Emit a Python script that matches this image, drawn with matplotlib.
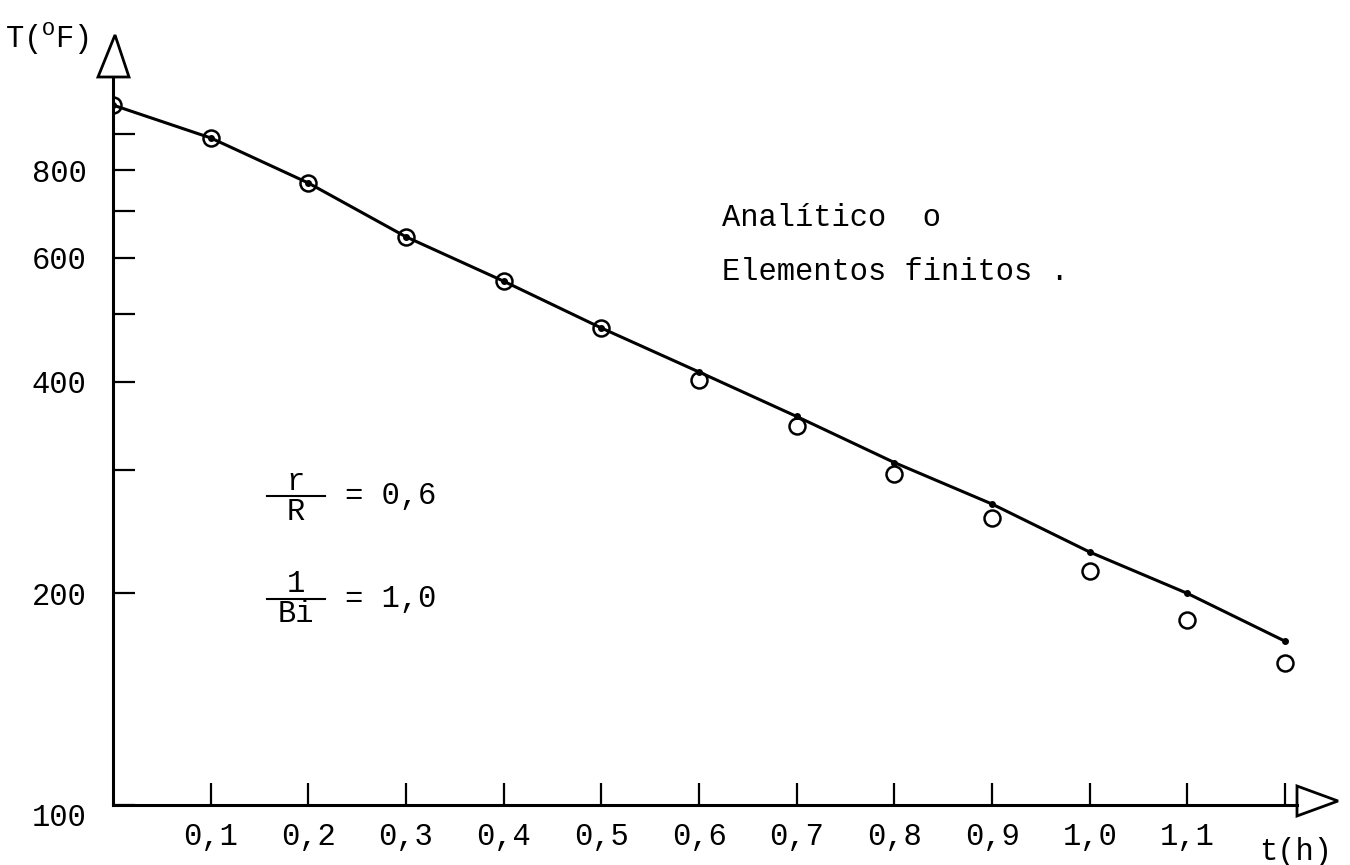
import numpy as np
import matplotlib
matplotlib.use('Agg')
import matplotlib.pyplot as plt
from matplotlib.patches import Polygon
from matplotlib.lines import Line2D
from matplotlib.transforms import ScaledTranslation

# tempo (h) e temperaturas (oF)
t = [0.0, 0.1, 0.2, 0.3, 0.4, 0.5, 0.6, 0.7, 0.8, 0.9, 1.0, 1.1, 1.2]
T_analitico = [990, 889, 767, 643, 556, 477, 402, 346, 296, 256, 215, 183, 159]
T_elementos = [990, 889, 767, 643, 556, 477, 413, 357, 307, 268, 229, 200, 171]

x_ticks = [0.1, 0.2, 0.3, 0.4, 0.5, 0.6, 0.7, 0.8, 0.9, 1.0, 1.1, 1.2]
x_labels = ['0,1', '0,2', '0,3', '0,4', '0,5', '0,6', '0,7', '0,8', '0,9', '1,0', '1,1', '']
y_ticks = [100, 200, 400, 600, 800]
y_labels = ['100', '200', '400', '600', '800']
y_minor = [300, 500, 700, 900]

plt.rcParams['font.family'] = ['Liberation Mono', 'DejaVu Sans Mono']
plt.rcParams['mathtext.fontset'] = 'custom'
plt.rcParams['mathtext.rm'] = 'Liberation Mono'
FS = 22

W, H = 1350, 865
fig = plt.figure(figsize=(W / 100, H / 100), dpi=100)


def px(x, y):
    # pixel -> fracao da figura
    return (x / W, 1 - y / H)


left, right, top, bottom = 113, 1297, 77, 805
ax = fig.add_axes([left / W, 1 - bottom / H, (right - left) / W, (bottom - top) / H])

ax.set_yscale('log')
ax.set_xlim(0, (right - left) / ((1285 - left) / 1.2))
ax.set_ylim(100, 100 * 10 ** ((bottom - top) / 703))

ax.plot(t, T_elementos, '-', color='black', lw=2.2, zorder=2)
ax.plot(t, T_elementos, 'o', color='black', ms=4, zorder=3)
ax.plot(t, T_analitico, 'o', mfc='none', mec='black', ms=11.5, mew=1.8, zorder=3)

for s in ['top', 'right']:
    ax.spines[s].set_visible(False)
for s in ['left', 'bottom']:
    ax.spines[s].set_linewidth(2.2)

ax.set_xticks(x_ticks)
ax.set_xticklabels(x_labels, fontsize=FS)
ax.set_yticks(y_ticks)
ax.set_yticklabels(y_labels, fontsize=FS)
ax.set_yticks(y_minor, minor=True)
ax.yaxis.set_minor_formatter(matplotlib.ticker.NullFormatter())
ax.tick_params(axis='both', which='both', direction='in', length=16, width=1.6)
ax.tick_params(axis='y', which='both', pad=19)
ax.tick_params(axis='x', pad=12)

# o rotulo 100 fica um pouco abaixo do eixo
lab100 = ax.get_yticklabels()[0]
lab100.set_transform(lab100.get_transform() + ScaledTranslation(0, -10 / 100, fig.dpi_scale_trans))

# setas abertas nos eixos
fig.add_artist(Polygon([px(98, 77), px(129, 77), px(115, 35)], closed=True,
                       fill=False, lw=2, ec='black', transform=fig.transFigure))
fig.add_artist(Polygon([px(1297, 786), px(1297, 816), px(1338, 801)], closed=True,
                       fill=False, lw=2, ec='black', transform=fig.transFigure))

fig.text(*px(5, 38), r'T($^{\mathrm{O}}$F)', fontsize=FS, ha='left', va='center')
fig.text(*px(1296, 852), 't(h)', fontsize=FS, ha='center', va='center')

fig.text(*px(722, 218), 'Analítico  o', fontsize=FS, ha='left', va='center')
fig.text(*px(722, 272), 'Elementos finitos .', fontsize=FS, ha='left', va='center')

# r/R = 0,6 e 1/Bi = 1,0
fig.text(*px(296, 482), 'r', fontsize=FS, ha='center', va='center')
fig.text(*px(296, 512), 'R', fontsize=FS, ha='center', va='center')
fig.add_artist(Line2D([267 / W, 325 / W], [1 - 496 / H, 1 - 496 / H], color='black', lw=1.5))
fig.text(*px(345, 496), '= 0,6', fontsize=FS, ha='left', va='center')

fig.text(*px(296, 584), '1', fontsize=FS, ha='center', va='center')
fig.text(*px(296, 614), 'Bi', fontsize=FS, ha='center', va='center')
fig.add_artist(Line2D([267 / W, 325 / W], [1 - 599 / H, 1 - 599 / H], color='black', lw=1.5))
fig.text(*px(345, 599), '= 1,0', fontsize=FS, ha='left', va='center')

fig.savefig('out.png', dpi=100)
